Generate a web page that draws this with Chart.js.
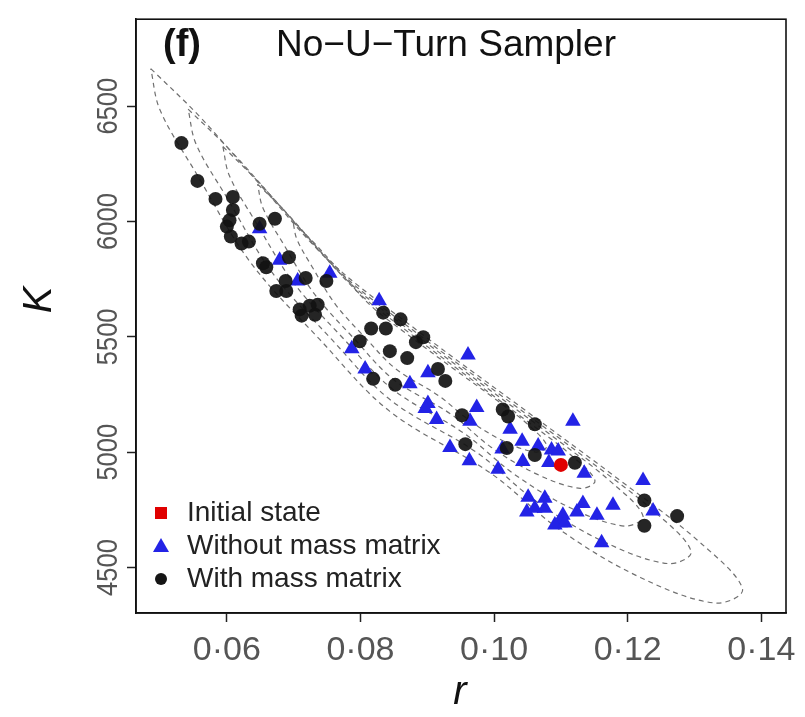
<!DOCTYPE html>
<html>
<head>
<meta charset="utf-8">
<script src="https://cdn.jsdelivr.net/npm/chart.js@4.4.0/dist/chart.umd.min.js"></script>
<style>
  html, body { margin: 0; padding: 0; background: #fff; }
</style>
</head>
<body>
<canvas id="myChart" width="805" height="717"></canvas>
<script>
let canvas = document.getElementById("myChart");
const fontFamily = "'Liberation Sans', Arial, sans-serif";

// samples with mass matrix (black circles)
const withMassR = [0.0532,0.0556,0.0583,0.0609,0.0609,0.0604,0.0600,0.0606,0.0622,0.0633,0.0649,0.0672,0.0654,0.0659,0.0693,0.0688,0.0674,0.0689,0.0718,0.0749,0.0709,0.0724,0.0736,0.0732,0.0712,0.0834,0.0860,0.0816,0.0838,0.0799,0.0844,0.0870,0.0883,0.0894,0.0819,0.0852,0.0916,0.0927,0.0952,0.1013,0.1021,0.1061,0.0957,0.1019,0.1061,0.1121,0.1225,0.1225,0.1274];
const withMassK = [6340,6176,6098,6106,6050,6005,5978,5935,5905,5913,5990,6012,5819,5802,5845,5742,5699,5699,5755,5742,5619,5635,5639,5596,5592,5605,5576,5536,5536,5481,5438,5408,5477,5498,5318,5292,5361,5309,5160,5185,5155,5121,5035,5018,4988,4954,4791,4681,4723];

// samples without mass matrix (blue triangles)
const withoutMassR = [0.0649,0.0679,0.0706,0.0754,0.0828,0.0787,0.0807,0.0874,0.0901,0.0961,0.0901,0.0897,0.0914,0.0974,0.0964,0.1024,0.1042,0.1012,0.1066,0.1086,0.1096,0.1118,0.0934,0.0963,0.1006,0.1043,0.1082,0.1135,0.1223,0.1238,0.1178,0.1154,0.1133,0.1124,0.1103,0.1099,0.1091,0.1106,0.1076,0.1076,0.1051,0.1049,0.1061,0.1161];
const withoutMassK = [5969,5832,5742,5776,5656,5448,5361,5297,5344,5421,5211,5190,5142,5194,5134,5100,5048,5014,5027,5010,5005,5134,5020,4963,4926,4960,4955,4909,4877,4745,4770,4727,4778,4741,4727,4694,4684,4693,4800,4757,4805,4741,4757,4608];

const initR = [0.1100];
const initK = [4945];

// posterior contours [r, K]
const contour1 = [[0.0486,6663],[0.0560,6453],[0.0649,6162],[0.0754,5828],[0.0889,5519],[0.1039,5198],[0.1189,4877],[0.1309,4607],[0.1372,4406],[0.1331,4346],[0.1219,4457],[0.1099,4663],[0.0994,4911],[0.0844,5177],[0.0739,5489],[0.0634,5828],[0.0555,6205],[0.0500,6483]];
const contour2 = [[0.0542,6487],[0.0604,6312],[0.0681,6063],[0.0770,5778],[0.0885,5515],[0.1012,5243],[0.1139,4971],[0.1241,4740],[0.1295,4569],[0.1261,4517],[0.1165,4611],[0.1063,4787],[0.0974,4999],[0.0846,5224],[0.0757,5489],[0.0668,5778],[0.0601,6099],[0.0554,6335]];
const contour3 = [[0.0594,6325],[0.0646,6175],[0.0710,5969],[0.0784,5734],[0.0880,5515],[0.0987,5284],[0.1093,5057],[0.1178,4864],[0.1223,4723],[0.1195,4680],[0.1114,4759],[0.1030,4905],[0.0955,5082],[0.0849,5271],[0.0774,5494],[0.0700,5734],[0.0643,5999],[0.0604,6197]];
const contour4 = [[0.0646,6162],[0.0688,6042],[0.0739,5875],[0.0799,5686],[0.0876,5511],[0.0961,5327],[0.1046,5142],[0.1115,4988],[0.1151,4877],[0.1129,4843],[0.1064,4905],[0.0995,5023],[0.0936,5164],[0.0850,5314],[0.0790,5494],[0.0731,5686],[0.0685,5901],[0.0654,6059]];
const contour5 = [[0.0699,5999],[0.0730,5909],[0.0769,5785],[0.0814,5639],[0.0872,5507],[0.0936,5369],[0.1001,5232],[0.1052,5117],[0.1079,5027],[0.1062,5001],[0.1013,5050],[0.0963,5138],[0.0917,5245],[0.0853,5361],[0.0808,5494],[0.0763,5639],[0.0728,5802],[0.0705,5922]];

const xTicks = [0.06, 0.08, 0.10, 0.12, 0.14];
const yTicks = [4500, 5000, 5500, 6000, 6500];
const legendLabels = ["Initial state", "Without mass matrix", "With mass matrix"];

function toPoints(rs, ks) {
  return rs.map((r, i) => ({ x: r, y: ks[i] }));
}

function contourSet(c) {
  let pts = c.concat([c[0]]).map(p => ({ x: p[0], y: p[1] }));
  return {
    type: "line",
    data: pts,
    showLine: true,
    borderColor: "#707070",
    borderWidth: 1.2,
    borderDash: [5, 4],
    tension: 0.35,
    pointRadius: 0,
    fill: false,
  };
}

const framePlugin = {
  id: "frame",
  afterDraw(chart) {
    const ctx = chart.ctx;
    const a = chart.chartArea;
    ctx.save();
    ctx.strokeStyle = "#111";
    ctx.lineWidth = 1.6;
    ctx.strokeRect(a.left, a.top, a.right - a.left, a.bottom - a.top);

    // rotated K tick labels
    ctx.fillStyle = "#555";
    ctx.font = "30px " + fontFamily;
    ctx.textAlign = "center";
    ctx.textBaseline = "middle";
    for (let v of yTicks) {
      let y = chart.scales.y.getPixelForValue(v);
      ctx.save();
      ctx.translate(109, y);
      ctx.rotate(-Math.PI / 2);
      ctx.scale(0.85, 1);
      ctx.fillText(String(v), 0, 0);
      ctx.restore();
    }

    // axis titles
    ctx.fillStyle = "#111";
    ctx.font = "italic 40px " + fontFamily;
    ctx.save();
    ctx.translate(40, 300);
    ctx.rotate(-Math.PI / 2);
    ctx.fillText("K", 0, 0);
    ctx.restore();
    ctx.fillText("r", 460, 693);

    // panel title
    ctx.textAlign = "left";
    ctx.font = "bold 38px " + fontFamily;
    ctx.fillText("(f)", 163, 46);
    ctx.font = "37px " + fontFamily;
    ctx.fillText("No\u2212U\u2212Turn Sampler", 276, 46);

    // legend
    ctx.font = "28px " + fontFamily;
    let lx = 161, ly = 513, step = 33;
    ctx.fillStyle = "#e00000";
    ctx.fillRect(lx - 6, ly - 6, 12, 12);
    ctx.fillStyle = "#2323e6";
    ctx.beginPath();
    ctx.moveTo(lx, ly + step - 8);
    ctx.lineTo(lx + 8, ly + step + 6);
    ctx.lineTo(lx - 8, ly + step + 6);
    ctx.closePath();
    ctx.fill();
    ctx.fillStyle = "#151515";
    ctx.beginPath();
    ctx.arc(lx, ly + 2 * step, 6, 0, Math.PI * 2);
    ctx.fill();
    ctx.fillStyle = "#222";
    legendLabels.forEach((t, i) => ctx.fillText(t, 187, ly + i * step));
    ctx.restore();
  },
};

let chart = new Chart(canvas, {
  type: "scatter",
  data: {
    datasets: [
      {
        label: legendLabels[0],
        data: toPoints(initR, initK),
        backgroundColor: "#e00000",
        borderWidth: 0,
        pointRadius: 7,
      },
      {
        label: legendLabels[2],
        data: toPoints(withMassR, withMassK),
        backgroundColor: "rgba(18,18,18,0.92)",
        borderWidth: 0,
        pointRadius: 7,
      },
      {
        label: legendLabels[1],
        data: toPoints(withoutMassR, withoutMassK),
        backgroundColor: "#2323e6",
        borderWidth: 0,
        pointStyle: "triangle",
        pointRadius: 9,
      },
      contourSet(contour5),
      contourSet(contour4),
      contourSet(contour3),
      contourSet(contour2),
      contourSet(contour1),
    ],
  },
  options: {
    responsive: false,
    animation: false,
    layout: { padding: { left: 0, right: 19, top: 12, bottom: 0 } },
    plugins: { legend: { display: false }, tooltip: { enabled: false } },
    scales: {
      x: {
        type: "linear",
        position: "bottom",
        min: 0.0464,
        max: 0.1437,
        afterBuildTicks: (s) => { s.ticks = xTicks.map(v => ({ value: v })); },
        afterFit: (s) => { s.height = 104; },
        ticks: {
          callback: (v) => Number(v).toFixed(2).replace(".", "\u00B7"),
          font: { size: 34, family: fontFamily },
          color: "#555",
          padding: 8,
          maxRotation: 0,
          autoSkip: false,
        },
        grid: { drawOnChartArea: false, drawTicks: true, tickLength: 9, tickColor: "#222", tickWidth: 1.5 },
        border: { display: true, color: "#111", width: 1.6 },
      },
      y: {
        type: "linear",
        min: 4303,
        max: 6877,
        afterBuildTicks: (s) => { s.ticks = yTicks.map(v => ({ value: v })); },
        afterFit: (s) => { s.width = 136; },
        ticks: { color: "rgba(0,0,0,0)", font: { size: 27, family: fontFamily } },
        grid: { drawOnChartArea: false, drawTicks: true, tickLength: 9, tickColor: "#222", tickWidth: 1.5 },
        border: { display: true, color: "#111", width: 1.6 },
      },
    },
  },
  plugins: [framePlugin],
});
</script>
</body>
</html>
